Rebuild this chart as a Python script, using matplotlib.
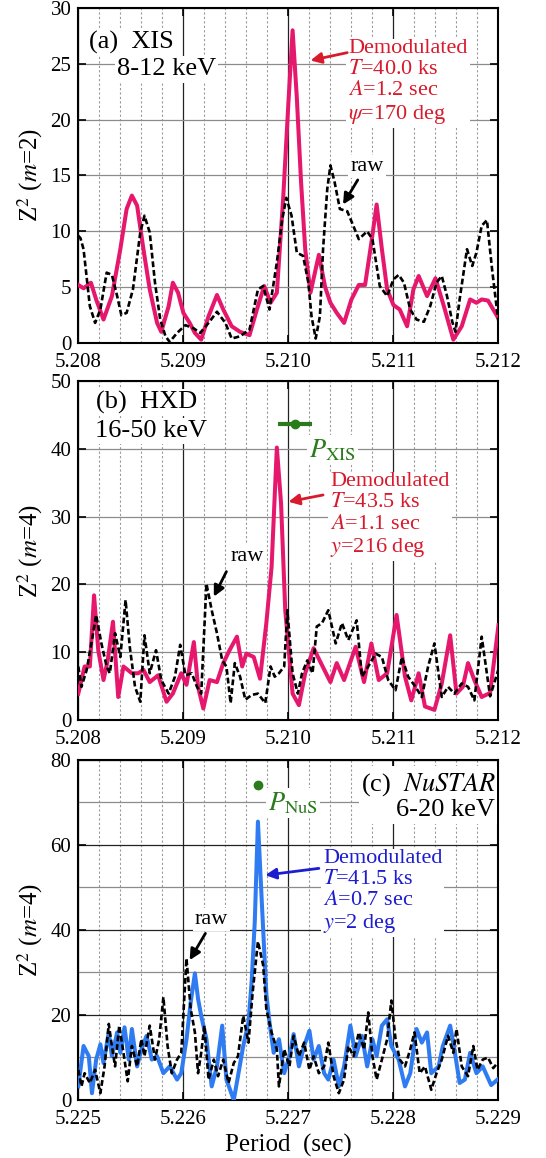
import matplotlib.pyplot as plt
from matplotlib.ticker import MultipleLocator, FormatStrFormatter

plt.rcParams['font.family'] = ['Liberation Serif', 'DejaVu Serif']
plt.rcParams['mathtext.fontset'] = 'stix'

# (a) Suzaku XIS, 8-12 keV, Z^2 with m=2
xis_period_demod = [5.20800, 5.20805, 5.20812, 5.20817, 5.20824, 5.20832, 5.20840, 5.20846, 5.20851, 5.20856,
                    5.20862, 5.20868, 5.20875, 5.20879, 5.20886, 5.20890, 5.20895, 5.20900, 5.20906, 5.20911,
                    5.20917, 5.20924, 5.20932, 5.20938, 5.20946, 5.20954, 5.20963, 5.20970, 5.20977, 5.20983,
                    5.20989, 5.20995, 5.21000, 5.21004, 5.21008, 5.21012, 5.21016, 5.21021, 5.21029, 5.21035,
                    5.21040, 5.21046, 5.21053, 5.21060, 5.21067, 5.21073, 5.21079, 5.21084, 5.21089, 5.21094,
                    5.21100, 5.21106, 5.21113, 5.21119, 5.21124, 5.21132, 5.21140, 5.21148, 5.21157, 5.21165,
                    5.21173, 5.21179, 5.21184, 5.21190, 5.21200]
xis_z2_demod = [5.2, 4.9, 5.4, 3.9, 2.1, 4.2, 8.4, 12.0, 13.2, 12.3,
                8.4, 4.8, 1.8, 1.0, 3.3, 5.4, 4.5, 2.7, 1.8, 0.9,
                0.3, 2.4, 4.3, 3.0, 1.5, 1.0, 0.7, 3.0, 5.1, 3.6,
                4.5, 12.9, 21.5, 28.0, 22.0, 14.5, 8.4, 4.5, 7.9, 5.0,
                3.6, 2.7, 1.8, 3.9, 5.2, 5.2, 9.0, 12.4, 8.4, 4.8,
                3.4, 3.0, 1.5, 4.8, 6.0, 4.2, 5.8, 3.3, 0.3, 1.5,
                3.9, 3.6, 3.9, 3.8, 2.2]
xis_period_raw = [5.20800, 5.20802, 5.20805, 5.20811, 5.20816, 5.20821, 5.20827, 5.20832, 5.20837, 5.20841,
                  5.20846, 5.20852, 5.20859, 5.20863, 5.20868, 5.20873, 5.20878, 5.20883, 5.20887, 5.20894,
                  5.20902, 5.20910, 5.20916, 5.20924, 5.20932, 5.20940, 5.20946, 5.20954, 5.20963, 5.20971,
                  5.20976, 5.20982, 5.20989, 5.20994, 5.20998, 5.21003, 5.21008, 5.21014, 5.21019, 5.21022,
                  5.21026, 5.21030, 5.21033, 5.21037, 5.21040, 5.21044, 5.21049, 5.21056, 5.21060, 5.21067,
                  5.21075, 5.21080, 5.21087, 5.21094, 5.21100, 5.21105, 5.21110, 5.21116, 5.21122, 5.21129,
                  5.21135, 5.21141, 5.21146, 5.21151, 5.21156, 5.21159, 5.21163, 5.21170, 5.21175, 5.21179,
                  5.21184, 5.21189, 5.21194, 5.21200]
xis_z2_raw = [9.6, 9.4, 8.4, 3.3, 1.8, 3.0, 6.3, 6.1, 4.2, 2.5,
              2.7, 4.8, 9.9, 11.4, 9.9, 5.4, 2.1, 0.6, 0.1, 0.9,
              1.6, 1.3, 0.9, 1.8, 2.8, 1.8, 0.4, 0.6, 1.2, 4.8,
              5.1, 3.0, 7.2, 11.0, 13.0, 11.4, 8.1, 7.8, 5.4, 2.4,
              0.4, 2.4, 8.4, 13.8, 15.9, 14.4, 12.0, 11.8, 10.9, 9.3,
              10.0, 9.3, 5.1, 4.2, 5.7, 6.1, 5.4, 3.0, 2.1, 1.9,
              3.3, 5.4, 6.0, 4.2, 1.9, 1.0, 3.9, 8.4, 6.9, 8.1,
              10.5, 11.0, 6.5, 1.8]

# (b) Suzaku HXD, 16-50 keV, Z^2 with m=4
hxd_period_demod = [5.20800, 5.20806, 5.20811, 5.20815, 5.20819, 5.20824, 5.20828, 5.20833, 5.20838, 5.20843,
                    5.20851, 5.20857, 5.20862, 5.20868, 5.20876, 5.20884, 5.20890, 5.20898, 5.20903, 5.20910,
                    5.20914, 5.20919, 5.20925, 5.20932, 5.20938, 5.20944, 5.20951, 5.20956, 5.20960, 5.20967,
                    5.20973, 5.20979, 5.20984, 5.20989, 5.20993, 5.20997, 5.21004, 5.21010, 5.21016, 5.21024,
                    5.21031, 5.21040, 5.21046, 5.21053, 5.21064, 5.21072, 5.21079, 5.21086, 5.21094, 5.21103,
                    5.21111, 5.21117, 5.21124, 5.21130, 5.21139, 5.21146, 5.21154, 5.21160, 5.21166, 5.21171,
                    5.21177, 5.21184, 5.21192, 5.21200]
hxd_z2_demod = [3.9, 7.9, 7.9, 18.4, 10.3, 5.9, 8.8, 14.5, 3.4, 7.9,
                6.9, 6.9, 7.4, 5.6, 6.6, 2.7, 3.9, 6.9, 5.2, 11.5,
                4.9, 1.7, 5.9, 5.6, 8.4, 10.3, 12.3, 7.9, 9.8, 9.3,
                6.1, 14.3, 22.6, 40.2, 32.0, 16.2, 3.9, 2.2, 6.9, 10.6,
                8.4, 5.6, 8.4, 5.9, 10.8, 5.6, 11.3, 5.9, 6.9, 15.5,
                6.4, 2.9, 6.9, 2.0, 1.5, 5.4, 12.5, 3.9, 4.9, 8.4,
                5.9, 3.4, 4.0, 14.0]
hxd_period_raw = [5.20800, 5.20803, 5.20808, 5.20813, 5.20817, 5.20822, 5.20827, 5.20830, 5.20835, 5.20840,
                  5.20845, 5.20849, 5.20854, 5.20859, 5.20863, 5.20868, 5.20874, 5.20879, 5.20886, 5.20892,
                  5.20897, 5.20902, 5.20908, 5.20913, 5.20917, 5.20922, 5.20927, 5.20932, 5.20937, 5.20941,
                  5.20945, 5.20949, 5.20954, 5.20959, 5.20965, 5.20971, 5.20978, 5.20983, 5.20987, 5.20991,
                  5.20996, 5.20999, 5.21004, 5.21009, 5.21013, 5.21018, 5.21023, 5.21027, 5.21032, 5.21038,
                  5.21045, 5.21051, 5.21057, 5.21065, 5.21070, 5.21076, 5.21083, 5.21089, 5.21095, 5.21102,
                  5.21108, 5.21114, 5.21121, 5.21127, 5.21133, 5.21139, 5.21146, 5.21152, 5.21158, 5.21165,
                  5.21171, 5.21177, 5.21184, 5.21192, 5.21200]
hxd_z2_raw = [7.9, 4.9, 7.4, 11.8, 15.5, 11.3, 7.9, 6.9, 12.8, 9.3,
              17.7, 10.8, 4.9, 2.7, 12.5, 6.9, 10.3, 5.9, 3.9, 6.4,
              11.1, 6.6, 6.9, 4.9, 3.9, 20.1, 16.2, 12.8, 8.8, 7.9,
              2.5, 8.4, 6.4, 3.0, 3.7, 3.9, 2.5, 7.9, 6.4, 6.9,
              7.9, 16.2, 6.9, 3.9, 6.9, 8.8, 6.9, 13.8, 14.3, 16.2,
              11.3, 14.3, 11.8, 14.7, 6.4, 7.9, 9.8, 9.3, 5.9, 4.4,
              9.3, 6.4, 4.9, 3.4, 7.9, 11.3, 3.4, 4.9, 3.9, 5.4,
              4.9, 2.9, 12.3, 3.5, 7.5]

# (c) NuSTAR, 6-20 keV, Z^2 with m=4
nus_period_demod = [5.22500, 5.22505, 5.22510, 5.22513, 5.22517, 5.22521, 5.22524, 5.22529, 5.22532, 5.22537,
                    5.22540, 5.22544, 5.22548, 5.22551, 5.22556, 5.22560, 5.22565, 5.22570, 5.22575, 5.22581,
                    5.22587, 5.22594, 5.22598, 5.22603, 5.22607, 5.22611, 5.22614, 5.22617, 5.22622, 5.22627,
                    5.22632, 5.22637, 5.22641, 5.22648, 5.22652, 5.22657, 5.22662, 5.22665, 5.22668, 5.22671,
                    5.22675, 5.22679, 5.22682, 5.22686, 5.22691, 5.22696, 5.22701, 5.22705, 5.22710, 5.22715,
                    5.22720, 5.22724, 5.22729, 5.22734, 5.22738, 5.22743, 5.22748, 5.22753, 5.22759, 5.22764,
                    5.22770, 5.22775, 5.22780, 5.22784, 5.22789, 5.22794, 5.22798, 5.22805, 5.22811, 5.22816,
                    5.22822, 5.22827, 5.22832, 5.22836, 5.22843, 5.22847, 5.22854, 5.22858, 5.22863, 5.22868,
                    5.22873, 5.22879, 5.22885, 5.22893, 5.22900]
nus_z2_demod = [3.2, 12.7, 10.3, 1.6, 9.5, 13.1, 8.7, 15.9, 10.3, 15.9,
                11.1, 17.1, 9.5, 16.7, 7.9, 11.9, 15.1, 9.5, 10.3, 6.3,
                7.9, 4.8, 6.3, 14.3, 23.0, 29.8, 23.8, 19.8, 14.3, 3.2,
                7.9, 17.5, 4.8, 0.0, 5.6, 12.7, 18.3, 27.8, 42.0, 65.5,
                45.0, 25.0, 18.3, 11.1, 14.3, 6.3, 10.3, 15.5, 7.9, 12.7,
                16.3, 9.5, 12.7, 6.3, 4.8, 9.5, 3.2, 7.9, 17.5, 10.3,
                15.1, 7.9, 14.3, 10.3, 17.5, 19.0, 12.7, 9.5, 3.2, 6.3,
                16.7, 13.5, 15.9, 6.3, 7.9, 12.7, 17.5, 11.9, 4.0, 4.8,
                11.1, 6.3, 7.9, 3.5, 5.0]
nus_period_raw = [5.22500, 5.22503, 5.22506, 5.22511, 5.22516, 5.22521, 5.22525, 5.22529, 5.22532, 5.22535,
                  5.22539, 5.22543, 5.22547, 5.22551, 5.22556, 5.22560, 5.22563, 5.22568, 5.22573, 5.22577,
                  5.22581, 5.22585, 5.22589, 5.22594, 5.22598, 5.22603, 5.22607, 5.22611, 5.22614, 5.22617,
                  5.22620, 5.22624, 5.22629, 5.22633, 5.22638, 5.22643, 5.22648, 5.22652, 5.22657, 5.22662,
                  5.22666, 5.22671, 5.22676, 5.22679, 5.22684, 5.22689, 5.22691, 5.22696, 5.22701, 5.22705,
                  5.22710, 5.22715, 5.22720, 5.22724, 5.22729, 5.22734, 5.22738, 5.22743, 5.22748, 5.22753,
                  5.22757, 5.22762, 5.22767, 5.22772, 5.22776, 5.22780, 5.22784, 5.22789, 5.22794, 5.22798,
                  5.22802, 5.22806, 5.22811, 5.22816, 5.22820, 5.22825, 5.22830, 5.22836, 5.22841, 5.22846,
                  5.22852, 5.22857, 5.22860, 5.22865, 5.22871, 5.22876, 5.22880, 5.22885, 5.22890, 5.22895,
                  5.22900]
nus_z2_raw = [7.1, 3.2, 6.3, 4.0, 7.1, 1.6, 7.9, 17.9, 12.7, 7.9,
              17.5, 11.1, 4.4, 12.7, 7.9, 14.3, 10.3, 17.5, 9.5, 14.3,
              24.2, 12.7, 6.3, 9.5, 11.1, 33.3, 21.4, 15.9, 6.3, 11.1,
              17.5, 4.8, 9.5, 5.6, 9.5, 4.0, 8.7, 10.3, 19.8, 13.5,
              25.4, 37.3, 31.7, 21.4, 15.9, 11.9, 3.2, 11.9, 7.9, 15.1,
              10.3, 13.5, 7.1, 10.3, 6.3, 7.9, 13.5, 5.6, 1.6, 4.8,
              12.7, 10.3, 15.9, 11.9, 20.6, 10.3, 4.8, 9.5, 14.3, 23.4,
              14.3, 9.5, 7.9, 11.9, 15.9, 6.3, 7.9, 2.4, 6.3, 9.5,
              15.1, 11.1, 16.7, 7.9, 5.6, 12.7, 7.1, 9.5, 10.0, 7.5,
              9.0]

# XIS period (with error) and NuSTAR period marks
p_xis, p_xis_err, p_xis_mark = 5.21006, 0.00016, 43.6
p_nus, p_nus_mark = 5.22671, 74.1

PINK = '#e6186e'
RED = '#d81a2c'
BLUE_LINE = '#2f7cf2'
BLUE = '#1c1cd0'
GREEN = '#2b7a1c'
WHITE_BOX = dict(facecolor='white', edgecolor='none', pad=1.5)
RAW_STYLE = dict(color='black', lw=1.9, ls=(0, (2.2, 1.1)), zorder=4)


def setup(ax, xmin, ymax, ystep, yminor=None):
    ax.set_xlim(xmin, xmin + 0.004)
    ax.set_ylim(0, ymax)
    ax.xaxis.set_major_locator(MultipleLocator(0.001))
    ax.xaxis.set_minor_locator(MultipleLocator(0.0002))
    ax.xaxis.set_major_formatter(FormatStrFormatter('%.3f'))
    ax.yaxis.set_major_locator(MultipleLocator(ystep))
    ax.set_axisbelow(True)
    ax.grid(axis='x', which='major', color='#222222', lw=0.9)
    ax.grid(axis='x', which='minor', color='#9a9a9a', lw=0.8, ls=(0, (2, 2)))
    if yminor:
        ax.yaxis.set_minor_locator(MultipleLocator(yminor))
        ax.grid(axis='y', which='major', color='#222222', lw=0.9)
        ax.grid(axis='y', which='minor', color='#8c8c8c', lw=0.9)
    else:
        ax.grid(axis='y', which='major', color='#8c8c8c', lw=0.9)
    ax.tick_params(which='major', direction='in', top=True, right=True,
                   length=6, width=1.2, labelsize=15)
    ax.tick_params(axis='x', which='major', pad=7)
    ax.tick_params(axis='y', which='major', pad=5)
    ax.tick_params(which='minor', direction='in', top=True, right=True,
                   length=0)
    for s in ax.spines.values():
        s.set_linewidth(1.5)


def arrow(ax, head, tail, color):
    ax.annotate('', xy=head, xytext=tail,
                arrowprops=dict(arrowstyle='-|>', color=color, lw=2,
                                mutation_scale=16, shrinkA=0, shrinkB=0))


fig = plt.figure(figsize=(5.46, 11.58), dpi=100)
ax_a = fig.add_axes([0.1434, 0.7038, 0.7696, 0.2893])
ax_b = fig.add_axes([0.1434, 0.3782, 0.7696, 0.2927])
ax_c = fig.add_axes([0.1434, 0.0501, 0.7696, 0.2936])

# (a) XIS
setup(ax_a, 5.208, 30, 5)
ax_a.plot(xis_period_demod, xis_z2_demod, color=PINK, lw=2.9, zorder=3)
ax_a.plot(xis_period_raw, xis_z2_raw, **RAW_STYLE)
ax_a.text(5.2081, 26.9, '(a)  XIS', fontsize=19, va='center', bbox=WHITE_BOX)
ax_a.text(5.20837, 24.5, '8-12 keV', fontsize=19, va='center', bbox=WHITE_BOX)
ax_a.text(5.21057, 23.35, 'Demodulated\n$T$=40.0 ks\n$A$=1.2 sec\n$\\psi$=170 deg',
          fontsize=16, color=RED, va='center', linespacing=1.15, bbox=WHITE_BOX)
arrow(ax_a, (5.21021, 25.3), (5.21056, 26.0), RED)
ax_a.text(5.21059, 15.8, 'raw', fontsize=16, va='center', bbox=WHITE_BOX)
arrow(ax_a, (5.21052, 12.4), (5.21066, 14.6), 'black')
ax_a.set_ylabel('Z$^2$ ($m$=2)', fontsize=18)

# (b) HXD
setup(ax_b, 5.208, 50, 10)
ax_b.plot(hxd_period_demod, hxd_z2_demod, color=PINK, lw=2.9, zorder=3)
ax_b.plot(hxd_period_raw, hxd_z2_raw, **RAW_STYLE)
ax_b.text(5.20817, 46.8, '(b)  HXD', fontsize=19, va='center', bbox=WHITE_BOX)
ax_b.text(5.20816, 42.6, '16-50 keV', fontsize=19, va='center', bbox=WHITE_BOX)
ax_b.errorbar([p_xis], [p_xis_mark], xerr=[p_xis_err], fmt='o', color=GREEN,
              ms=6, elinewidth=3, capsize=0, zorder=5)
ax_b.text(5.21020, 39.8, '$P_{\\rm XIS}$', fontsize=19, color=GREEN, va='center',
          bbox=WHITE_BOX)
ax_b.text(5.21040, 30.15, 'Demodulated\n$T$=43.5 ks\n$A$=1.1 sec\n$y$=216 deg',
          fontsize=16, color=RED, va='center', linespacing=1.15, bbox=WHITE_BOX)
arrow(ax_b, (5.21000, 32.2), (5.21033, 33.2), RED)
ax_b.text(5.20945, 24.1, 'raw', fontsize=16, va='center', bbox=WHITE_BOX)
arrow(ax_b, (5.20929, 18.2), (5.20941, 21.9), 'black')
ax_b.set_ylabel('Z$^2$ ($m$=4)', fontsize=18)

# (c) NuSTAR
setup(ax_c, 5.225, 80, 20, yminor=10)
ax_c.plot(nus_period_demod, nus_z2_demod, color=BLUE_LINE, lw=2.9, zorder=3)
ax_c.plot(nus_period_raw, nus_z2_raw, **RAW_STYLE)
ax_c.text(5.22897, 71.5, '(c)  $\\mathit{NuSTAR}$\n6-20 keV', fontsize=19, ha='right',
          va='center', multialignment='right', linespacing=1.1, bbox=WHITE_BOX)
ax_c.plot([p_nus], [p_nus_mark], 'o', color=GREEN, ms=6, zorder=5)
ax_c.text(5.22681, 69.8, '$P_{\\rm NuS}$', fontsize=19, color=GREEN, va='center',
          bbox=WHITE_BOX)
ax_c.text(5.22733, 48.9, 'Demodulated\n$T$=41.5 ks\n$A$=0.7 sec\n$y$=2 deg',
          fontsize=16, color=BLUE, va='center', linespacing=1.15, bbox=WHITE_BOX)
arrow(ax_c, (5.22678, 52.9), (5.22729, 54.5), BLUE)
ax_c.text(5.22611, 42.4, 'raw', fontsize=16, va='center', bbox=WHITE_BOX)
arrow(ax_c, (5.22606, 32.9), (5.22621, 39.2), 'black')
ax_c.set_ylabel('Z$^2$ ($m$=4)', fontsize=18)
ax_c.set_xlabel('Period  (sec)', fontsize=18)

fig.savefig('out.png', dpi=100)
